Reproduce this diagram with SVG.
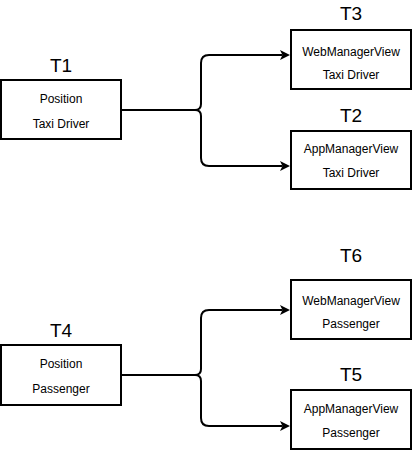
<svg xmlns="http://www.w3.org/2000/svg" width="413" height="452" viewBox="0 0 413 452">
  <style>
    .box { fill: #ffffff; stroke: #000000; stroke-width: 2; }
    .title { font-family: "Liberation Sans", Arial, sans-serif; font-size: 19px; fill: #000000; text-anchor: middle; }
    .txt { font-family: "Liberation Sans", Arial, sans-serif; font-size: 12px; fill: #000000; text-anchor: middle; }
    .edge { fill: none; stroke: #000000; stroke-width: 2; }
  </style>
  <defs>
    <marker id="arrow" viewBox="0 0 10 10" refX="2.5" refY="5" markerWidth="10" markerHeight="10" markerUnits="userSpaceOnUse" orient="auto">
      <path d="M0,0 L10,5 L0,10 L2.5,5 Z" fill="#000000"/>
    </marker>
  </defs>
  <rect width="413" height="452" fill="#ffffff"/>

  <g id="connectors">
    <path class="edge" d="M121,110 H195 Q201,110 201,104 V63 Q201,55 209,55 H282.5" marker-end="url(#arrow)"/>
    <path class="edge" d="M195,110 Q201,110 201,116 V158 Q201,166 209,166 H282.5" marker-end="url(#arrow)"/>
    <path class="edge" d="M121,375 H195 Q201,375 201,369 V318 Q201,310 209,310 H282.5" marker-end="url(#arrow)"/>
    <path class="edge" d="M195,375 Q201,375 201,381 V418 Q201,426 209,426 H282.5" marker-end="url(#arrow)"/>
  </g>

  <g id="T1">
    <text class="title" x="61" y="72">T1</text>
    <rect class="box" x="1" y="80" width="120" height="59"/>
    <text class="txt" x="61" y="103">Position</text>
    <text class="txt" x="61" y="128">Taxi Driver</text>
  </g>
  <g id="T3">
    <text class="title" x="351" y="20">T3</text>
    <rect class="box" x="291" y="30" width="120" height="59"/>
    <text class="txt" x="351" y="56">WebManagerView</text>
    <text class="txt" x="351" y="79">Taxi Driver</text>
  </g>
  <g id="T2">
    <text class="title" x="351" y="122">T2</text>
    <rect class="box" x="291" y="131" width="120" height="58"/>
    <text class="txt" x="351" y="153">AppManagerView</text>
    <text class="txt" x="351" y="177">Taxi Driver</text>
  </g>
  <g id="T4">
    <text class="title" x="61" y="337">T4</text>
    <rect class="box" x="1" y="345" width="120" height="60"/>
    <text class="txt" x="61" y="368">Position</text>
    <text class="txt" x="61" y="393">Passenger</text>
  </g>
  <g id="T6">
    <text class="title" x="351" y="262">T6</text>
    <rect class="box" x="291" y="280" width="120" height="59"/>
    <text class="txt" x="351" y="305">WebManagerView</text>
    <text class="txt" x="351" y="328">Passenger</text>
  </g>
  <g id="T5">
    <text class="title" x="351" y="381">T5</text>
    <rect class="box" x="291" y="390" width="120" height="59"/>
    <text class="txt" x="351" y="413">AppManagerView</text>
    <text class="txt" x="351" y="437">Passenger</text>
  </g>
</svg>
